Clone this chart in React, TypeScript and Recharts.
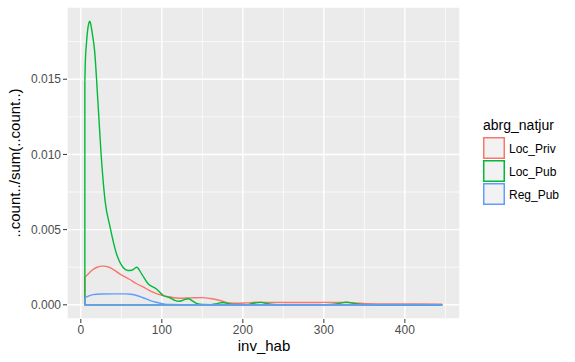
import { ComposedChart, Line, XAxis, YAxis, CartesianGrid, ReferenceLine } from 'recharts'

// Loc_Priv density
const privX = [5, 10, 15, 20, 27, 35, 48, 60, 69, 80, 89, 101, 112, 122, 135, 150, 160, 172, 184, 192, 205, 217, 240, 270, 300, 330, 345, 355, 380, 420, 446]
const privY = [0.00184, 0.0021, 0.00235, 0.0025, 0.00257, 0.0025, 0.00206, 0.0017, 0.0014, 0.0011, 0.00084, 0.00062, 0.0005, 0.00044, 0.00046, 0.00048, 0.00042, 0.00029, 0.00012, 0.0001, 0.00013, 0.00017, 0.00016, 0.00015, 0.00016, 0.00015, 0.0001, 0.00007, 0.00005, 0.00005, 0.00004]

// Loc_Pub density
const pubX = [5, 5.5, 7, 8.5, 10, 11, 12.5, 14, 17, 21, 25, 30, 36, 44, 52, 58, 63, 69, 75, 83, 93, 102, 110, 116, 122, 128, 133, 138, 143, 150, 160, 168, 175, 182, 190, 205, 215, 222, 230, 245, 300, 318, 328, 338, 350, 400, 446]
const pubY = [0.0149, 0.016, 0.0174, 0.0183, 0.01875, 0.01886, 0.0186, 0.0181, 0.0169, 0.0136, 0.01005, 0.0069, 0.0052, 0.0034, 0.0025, 0.00228, 0.0023, 0.0025, 0.00206, 0.0014, 0.00107, 0.00062, 0.00047, 0.0003, 0.00024, 0.00035, 0.0004, 0.00025, 0.0001, 0.00002, 0.00001, 0.00008, 0.00015, 0.00008, 0.00002, 0.00001, 0.00012, 0.00016, 0.00008, 0.00001, 0.00001, 0.00008, 0.00018, 0.00008, 0.00001, 0, 0]

// Reg_Pub density
const regX = [5, 10, 15, 25, 40, 55, 62, 70, 77, 85, 93, 102, 110, 130, 200, 300, 446]
const regY = [0.00047, 0.0006, 0.00068, 0.00072, 0.00073, 0.00073, 0.0007, 0.0006, 0.00047, 0.0003, 0.00017, 0.00006, 0.00002, 0.00001, 0, 0, 0]

const groups = ['Loc_Priv', 'Loc_Pub', 'Reg_Pub']
const colors = ['#F8766D', '#00BA38', '#619CFF']
const xTicks = [0, 100, 200, 300, 400]
const xMinor = [50, 150, 250, 350, 450]
const yTicks = [0, 0.005, 0.01, 0.015]
const yMinor = [0.0025, 0.0075, 0.0125, 0.0175]

const series = [
  { name: groups[0], xs: privX, ys: privY, color: colors[0] },
  { name: groups[1], xs: pubX, ys: pubY, color: colors[1] },
  { name: groups[2], xs: regX, ys: regY, color: colors[2] },
]

const curve = (xs: number[], ys: number[]) => xs.map((x, i) => ({ x, y: ys[i] }))

// vertical sides and baseline of the density polygon
const outline = (xs: number[], ys: number[]) => {
  const n = xs.length - 1
  return [
    { x: xs[n], y: ys[n] },
    { x: xs[n], y: 0 },
    { x: xs[0], y: 0 },
    { x: xs[0], y: ys[0] },
  ]
}

const allX = [...privX, ...pubX, ...regX]
const allY = [...privY, ...pubY, ...regY]
const xLo = Math.min(...allX)
const xHi = Math.max(...allX)
const yHi = Math.max(...allY)
const xDomain = [xLo - (xHi - xLo) * 0.05, xHi + (xHi - xLo) * 0.05]
const yDomain = [-yHi * 0.05, yHi * 1.05]

const font = '"Liberation Sans", Arial, sans-serif'

export default function App() {
  return (
    <div style={{ position: 'absolute', left: 0, top: 0, width: 575, height: 362, background: '#fff', fontFamily: font }}>
      <ComposedChart width={575} height={362} margin={{ top: 7, right: 115, bottom: 0, left: 0 }}>
        <CartesianGrid fill="#EBEBEB" stroke="#FFFFFF" strokeWidth={1.4} />
        {xMinor.map((v) => (
          <ReferenceLine key={'xm' + v} x={v} stroke="#FFFFFF" strokeWidth={0.7} />
        ))}
        {yMinor.map((v) => (
          <ReferenceLine key={'ym' + v} y={v} stroke="#FFFFFF" strokeWidth={0.7} />
        ))}
        <XAxis
          type="number"
          dataKey="x"
          domain={xDomain}
          allowDataOverflow
          ticks={xTicks}
          height={43}
          axisLine={false}
          tickSize={4}
          tickMargin={2}
          tickLine={{ stroke: '#333333', strokeWidth: 1 }}
          tick={{ fill: '#4D4D4D', fontSize: 12, fontFamily: font }}
        />
        <YAxis
          type="number"
          dataKey="y"
          domain={yDomain}
          allowDataOverflow
          ticks={yTicks}
          width={67}
          axisLine={false}
          tickSize={4}
          tickMargin={2}
          tickLine={{ stroke: '#333333', strokeWidth: 1 }}
          tick={{ fill: '#4D4D4D', fontSize: 12, fontFamily: font }}
          tickFormatter={(v: number) => v.toFixed(3)}
        />
        {series.map((s) => [
          <Line
            key={s.name + '-out'}
            data={outline(s.xs, s.ys)}
            dataKey="y"
            type="linear"
            stroke={s.color}
            strokeWidth={1.4}
            dot={false}
            activeDot={false}
            isAnimationActive={false}
          />,
          <Line
            key={s.name}
            data={curve(s.xs, s.ys)}
            dataKey="y"
            type="monotone"
            stroke={s.color}
            strokeWidth={1.4}
            dot={false}
            activeDot={false}
            isAnimationActive={false}
          />,
        ])}
      </ComposedChart>
      <svg width={575} height={362} style={{ position: 'absolute', left: 0, top: 0, pointerEvents: 'none' }}>
        <text x={264} y={351} textAnchor="middle" fontSize={15} fill="#000" fontFamily={font}>
          inv_hab
        </text>
        <text x={20} y={163} transform="rotate(-90 20 163)" textAnchor="middle" fontSize={15} fill="#000" fontFamily={font}>
          ..count../sum(..count..)
        </text>
        <text x={483} y={130} fontSize={14} fill="#000" fontFamily={font}>
          abrg_natjur
        </text>
        {groups.map((g, i) => (
          <g key={g}>
            <rect x={483.75} y={137.75 + i * 23} width={20.5} height={20.5} fill="#F2F2F2" stroke={colors[i]} strokeWidth={1.5} />
            <text x={509} y={153 + i * 23} fontSize={12} fill="#000" fontFamily={font}>
              {g}
            </text>
          </g>
        ))}
      </svg>
    </div>
  )
}
